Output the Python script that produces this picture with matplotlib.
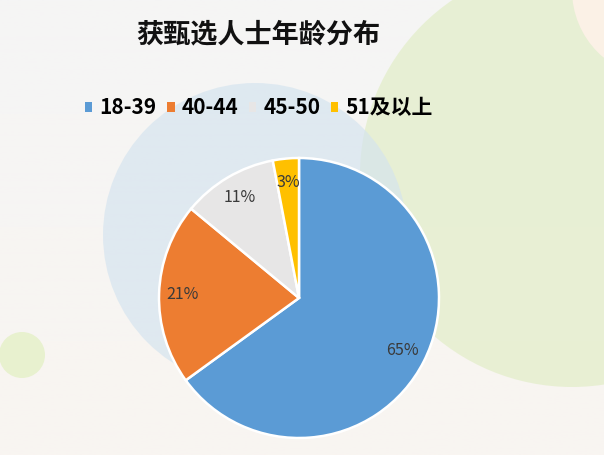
import matplotlib.pyplot as plt
import numpy as np
from matplotlib.patches import Circle
from matplotlib.colors import to_rgb

plt.rcParams['font.family'] = ['Noto Sans CJK SC', 'DejaVu Sans']

# age groups and their shares (%)
groups = ['18-39', '40-44', '45-50', '51及以上']
shares = [65, 21, 11, 3]
colors = ['#5b9bd5', '#ed7d31', '#e7e6e6', '#ffc000']
title = '获甄选人士年龄分布'

W, H = 604, 455
fig = plt.figure(figsize=(W / 100, H / 100), dpi=100)
ax = fig.add_axes([0, 0, 1, 1])

# soft background: grey at top fading into warm beige
top = np.array(to_rgb('#f5f5f5'))
bot = np.array(to_rgb('#f9f5f1'))
t = np.linspace(0, 1, 200)[:, None]
grad = (top * (1 - t) + bot * t)[:, None, :]
ax.imshow(grad, extent=[0, W, 0, H], aspect='auto', origin='upper', zorder=0)

# decorative circles
ax.add_patch(Circle((572, H - 175), 212, color='#e3eeca', alpha=0.75, lw=0, zorder=1))
ax.add_patch(Circle((660, H + 10), 88, color='#fbf1e6', lw=0, zorder=1))
ax.add_patch(Circle((255, H - 235), 152, color='#d3e3ef', alpha=0.65, lw=0, zorder=2))
ax.add_patch(Circle((22, H - 355), 23, color='#e8f1cf', lw=0, zorder=1))

wedges, texts, autotexts = ax.pie(
    shares, colors=colors, startangle=90, counterclock=False,
    center=(299, H - 298), radius=140,
    autopct=lambda p: f'{p:.0f}%', pctdistance=0.83,
    wedgeprops=dict(edgecolor='white', linewidth=1.8),
    textprops=dict(color='#3a3a3a', fontsize=11.5))
for w in wedges:
    w.set_zorder(3)
for a in autotexts:
    a.set_zorder(4)

ax.set_xlim(0, W)
ax.set_ylim(0, H)
ax.set_aspect('equal')
ax.axis('off')

leg = ax.legend(wedges, groups, ncol=4, loc='center', bbox_to_anchor=(259 / W, 1 - 108 / H),
                frameon=False, handlelength=0.35, handleheight=0.35, handletextpad=0.35,
                columnspacing=0.5, prop=dict(size=15, weight='bold'))
for h in leg.legend_handles:
    h.set_edgecolor('none')

fig.text(258 / W, 1 - 34 / H, title, ha='center', va='center',
         fontsize=19.5, fontweight='bold', color='#111111')

fig.savefig('out.png', dpi=100)
